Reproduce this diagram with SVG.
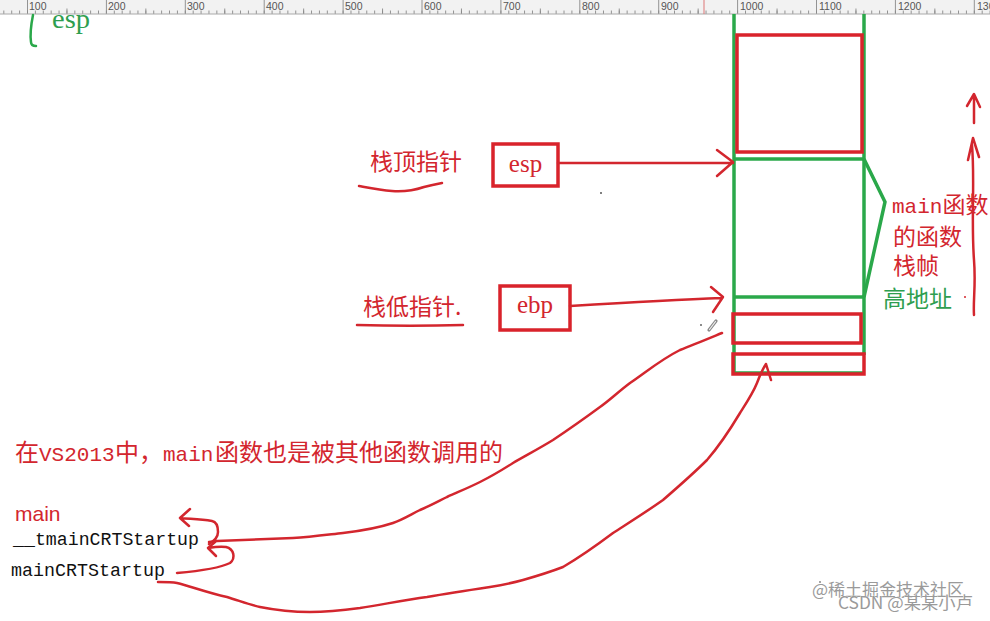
<svg xmlns="http://www.w3.org/2000/svg" width="990" height="621" viewBox="0 0 990 621">
<style>
.red{fill:#d3262e}
.grn{fill:#2e9e4f}
.cjk{font-family:"Noto Sans CJK SC","Liberation Sans",sans-serif}
.mono{font-family:"Liberation Mono","Noto Sans CJK SC",monospace}
.serif{font-family:"Liberation Serif","Noto Sans CJK SC",serif}
.sans{font-family:"Liberation Sans","Noto Sans CJK SC",sans-serif}
.ink{fill:none;stroke:#d3262e;stroke-width:2.5;stroke-linecap:round;stroke-linejoin:round}
.box{fill:none;stroke:#d9232b;stroke-width:3.5}
.gl{fill:none;stroke:#2aa84a;stroke-width:3.5}
.rl{font-family:"Liberation Sans",sans-serif;font-size:10.5px;fill:#555}
.wm{font-size:17px;fill:#9a9a9a;stroke:#fff;stroke-width:0.6;paint-order:stroke}
</style>
<defs>
<pattern id="minor" patternUnits="userSpaceOnUse" x="27" y="0" width="7.89" height="14"><rect x="0" y="10.5" width="0.9" height="3.5" fill="#888"/></pattern>
<pattern id="half" patternUnits="userSpaceOnUse" x="66.45" y="0" width="78.9" height="14"><rect x="0" y="8.5" width="0.9" height="5.5" fill="#888"/></pattern>
<pattern id="major" patternUnits="userSpaceOnUse" x="27" y="0" width="78.9" height="14"><rect x="0" y="0" width="0.9" height="14" fill="#888"/></pattern>
</defs>
<rect width="990" height="621" fill="#fff"/>

<g id="ruler">
<rect x="0" y="0" width="990" height="14" fill="#f2f2f2"/>
<rect x="0" y="0" width="990" height="14" fill="url(#minor)"/>
<rect x="0" y="0" width="990" height="14" fill="url(#half)"/>
<rect x="0" y="0" width="990" height="14" fill="url(#major)"/>
<line x1="0" y1="14" x2="990" y2="14" stroke="#aaa" stroke-width="1"/>
<line x1="704" y1="0" x2="704" y2="14" stroke="#d77" stroke-width="1"/>
<text class="rl" x="29" y="10">100</text>
<text class="rl" x="108" y="10">200</text>
<text class="rl" x="187" y="10">300</text>
<text class="rl" x="266" y="10">400</text>
<text class="rl" x="345" y="10">500</text>
<text class="rl" x="424" y="10">600</text>
<text class="rl" x="503" y="10">700</text>
<text class="rl" x="582" y="10">800</text>
<text class="rl" x="661" y="10">900</text>
<text class="rl" x="740" y="10">1000</text>
<text class="rl" x="819" y="10">1100</text>
<text class="rl" x="898" y="10">1200</text>
<text class="rl" x="977" y="10">1300</text>
</g>

<g id="top-esp">
<path d="M33,15 C31,25 30,35 31,42 C31,45 33,46 36,46" fill="none" stroke="#2aa84a" stroke-width="2.5" stroke-linecap="round"/>
<text class="serif grn" x="52" y="28" font-size="27" textLength="38" lengthAdjust="spacingAndGlyphs">esp</text>
</g>

<g id="stack">
<line class="gl" x1="734" y1="14" x2="734" y2="375"/>
<line class="gl" x1="864" y1="14" x2="864" y2="355"/>
<line class="gl" x1="734" y1="159" x2="864" y2="159"/>
<line class="gl" x1="734" y1="297" x2="864" y2="297"/>
<line class="gl" x1="734" y1="373" x2="864" y2="373"/>
<path class="gl" d="M864,159 L885,202 L864,297"/>
<rect class="box" x="737" y="35" width="125" height="117"/>
<rect class="box" x="733" y="314" width="128" height="29"/>
<rect class="box" x="733" y="354" width="131" height="20"/>
</g>

<g id="frame-label">
<text class="red" x="892" y="213" font-size="23"><tspan class="mono" font-size="21">main</tspan><tspan class="cjk">函数</tspan></text>
<text class="cjk red" x="893" y="245" font-size="23">的函数</text>
<text class="cjk red" x="893" y="274" font-size="23">栈帧</text>
<text class="cjk grn" x="883" y="307" font-size="23">高地址</text>
<circle cx="965" cy="297" r="1" fill="#d3262e"/>
</g>

<g id="esp-node">
<text class="cjk red" x="370" y="170" font-size="23">栈顶指针</text>
<path class="ink" d="M359,186 C370,188 380,190 392,191 C405,192 415,190 424,187 C432,185 437,184 442,183"/>
<rect class="box" x="493" y="144" width="65" height="42"/>
<text class="serif red" x="525.5" y="172" font-size="25" text-anchor="middle">esp</text>
</g>

<g id="ebp-node">
<text class="cjk red" x="363" y="315" font-size="23">栈低指针.</text>
<path class="ink" d="M357,325 C390,326 430,326 463,325"/>
<rect class="box" x="500" y="286" width="70" height="44"/>
<text class="serif red" x="535" y="313" font-size="25" text-anchor="middle">ebp</text>
</g>

<g id="title">
<text class="red" y="461" font-size="24"><tspan class="cjk" x="15">在</tspan><tspan class="mono" x="39" font-size="21">VS2013</tspan><tspan class="cjk" x="115">中，</tspan><tspan class="mono" x="163" font-size="21">main</tspan><tspan class="cjk" x="215">函数也是被其他函数调用的</tspan></text>
</g>

<g id="call-chain">
<text class="sans" x="15" y="521" font-size="21" fill="#d3262e">main</text>
<text class="mono" x="13" y="545" font-size="18" fill="#111" textLength="186" lengthAdjust="spacingAndGlyphs">__tmainCRTStartup</text>
<text class="mono" x="11" y="576" font-size="18" fill="#111" textLength="154" lengthAdjust="spacingAndGlyphs">mainCRTStartup</text>
</g>

<g id="connectors">
<path class="ink" d="M558,163 L733,163 M717,150 L733,162 L717,176" stroke-width="3"/>
<path class="ink" d="M570,306 C620,303 670,300 722,298 M711,287 L723,297 L713,312" stroke-width="3"/>
<path class="ink" d="M722,333 C705,340 693,345 680,350 C660,360 645,373 630,383 C618,392 610,400 600,407 C585,418 568,430 553,440 C540,448 525,456 513,463 C502,470 492,476 480,482 C468,488 458,492 447,497 C437,502 430,506 420,510 C410,515 402,520 393,523 C375,529 360,531 343,533 C325,535 310,537 293,538 C265,539 240,540 217,541 L209,542"/>
<path class="ink" d="M209,544 C214,541 218,538 218,532 C218,526 217,522 212,521 C200,519 190,519 180,518 M190,509 L180,518 L189,526"/>
<path class="ink" d="M177,573 C200,571 220,568 230,563 C236,558 234,549 226,547 C220,546 214,547 208,548 M215,542 L208,548 L216,556"/>
<path class="ink" d="M158,582 C165,582 172,582 177,583 C190,586 205,592 227,597 C240,601 250,605 260,607 C280,611 295,612 310,612 C330,612 345,610 360,608 C385,604 405,600 427,597 C450,593 470,590 490,587 C502,585 512,583 523,580 C537,576 550,572 563,567 C580,557 597,545 613,533 C630,522 646,512 663,500 C678,487 693,474 707,460 C720,445 731,428 740,413 C747,402 753,393 757,383 C760,375 762,370 766,364 M766,364 L771,380"/>
<path class="ink" d="M974,123 L974,95 M967,106 L974,94 L980,107"/>
<path class="ink" d="M968,160 L973,138 L979,157 M972,145 C975,180 971,220 974,260 C976,285 973,300 974,315"/>
</g>

<g id="marks">
<circle cx="601" cy="193" r="1" fill="#555"/>
<circle cx="701" cy="325" r="1" fill="#666"/>
<path d="M709,330 L716,321" stroke="#888" stroke-width="3.2" stroke-linecap="round"/>
<path d="M709.5,329.5 L715.5,321.5" stroke="#eee" stroke-width="1.2" stroke-linecap="round"/>
<circle cx="820" cy="582" r="1" fill="#888"/>
</g>

<g id="watermark">
<text class="cjk wm" x="812" y="596">@稀土掘金技术社区</text>
<text class="cjk wm" x="838" y="609" textLength="135" lengthAdjust="spacingAndGlyphs">CSDN @某某小卢</text>
</g>
</svg>
